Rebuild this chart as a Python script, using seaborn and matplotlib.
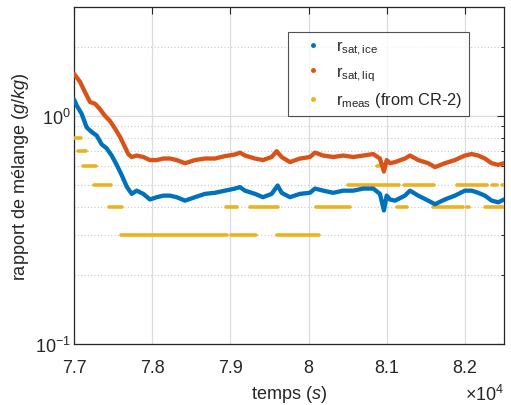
import matplotlib
matplotlib.use("Agg")
import numpy as np
import pandas as pd
import matplotlib.pyplot as plt
import seaborn as sns
from matplotlib.ticker import FixedLocator, FixedFormatter, NullFormatter
from matplotlib.lines import Line2D

# ---------------- data ----------------
t_ice = [77000, 77035, 77098, 77162, 77226, 77290, 77354, 77418, 77482, 77546,
         77610, 77674, 77738, 77802, 77886, 77972, 78058, 78142, 78228, 78313,
         78420, 78547, 78675, 78803, 78931, 79059, 79123, 79187, 79315, 79417,
         79528, 79605, 79656, 79762, 79890, 80018, 80082, 80188, 80316, 80444,
         80572, 80700, 80827, 80913, 80964, 80999, 81041, 81105, 81233, 81297,
         81403, 81531, 81617, 81744, 81872, 82000, 82086, 82170, 82256, 82342,
         82426, 82500]
r_ice = [1.18, 1.11, 1.02, 0.89, 0.85, 0.82, 0.75, 0.72, 0.67, 0.61,
         0.55, 0.49, 0.455, 0.47, 0.455, 0.43, 0.44, 0.447, 0.447, 0.44,
         0.425, 0.44, 0.455, 0.46, 0.47, 0.48, 0.487, 0.47, 0.455, 0.44,
         0.455, 0.495, 0.46, 0.44, 0.455, 0.46, 0.48, 0.47, 0.46, 0.47,
         0.47, 0.48, 0.48, 0.455, 0.385, 0.447, 0.43, 0.425, 0.447, 0.47,
         0.447, 0.425, 0.41, 0.43, 0.447, 0.47, 0.47, 0.46, 0.447, 0.425,
         0.418, 0.43]

t_liq = [77000, 77077, 77141, 77205, 77269, 77332, 77396, 77460, 77524, 77588,
         77652, 77694, 77738, 77802, 77886, 77972, 78058, 78142, 78228, 78313,
         78420, 78547, 78675, 78803, 78931, 79059, 79123, 79187, 79315, 79417,
         79528, 79592, 79656, 79762, 79890, 80018, 80082, 80188, 80316, 80444,
         80572, 80700, 80827, 80913, 80964, 80999, 81041, 81105, 81233, 81297,
         81403, 81531, 81617, 81744, 81872, 82000, 82086, 82170, 82256, 82342,
         82426, 82500]
r_liq = [1.53, 1.41, 1.27, 1.15, 1.13, 1.07, 1.00, 0.95, 0.88, 0.81,
         0.73, 0.68, 0.66, 0.67, 0.66, 0.64, 0.64, 0.65, 0.65, 0.64,
         0.62, 0.64, 0.65, 0.65, 0.666, 0.677, 0.69, 0.67, 0.65, 0.64,
         0.66, 0.70, 0.66, 0.627, 0.65, 0.66, 0.69, 0.67, 0.66, 0.67,
         0.66, 0.67, 0.68, 0.65, 0.57, 0.64, 0.62, 0.627, 0.65, 0.67,
         0.64, 0.62, 0.596, 0.62, 0.64, 0.67, 0.68, 0.67, 0.65, 0.62,
         0.61, 0.62]

# measured mixing ratio (CR-2): constant-value stretches
meas_start = [77000, 77051, 77119, 77256, 77448, 77597, 78944, 79008, 79251,
              79596, 80091, 80508, 80870, 81127, 81220, 81587, 81894, 82022,
              82256, 82342, 82469]
meas_end   = [77086, 77150, 77281, 77469, 77618, 78957, 79084, 79327, 79609,
              80133, 80530, 81160, 80900, 81255, 81604, 81978, 82278, 82055,
              82500, 82406, 82500]
meas_level = [0.8, 0.7, 0.6, 0.5, 0.4, 0.3, 0.4, 0.3, 0.4,
              0.3, 0.4, 0.5, 0.6, 0.4, 0.5, 0.4, 0.5, 0.4,
              0.4, 0.5, 0.5]

x_ticks = [77000, 78000, 79000, 80000, 81000, 82000]
x_tick_labels = ["7.7", "7.8", "7.9", "8", "8.1", "8.2"]
y_ticks = [0.1, 1.0]
y_tick_labels = ["10$^{-1}$", "10$^{0}$"]
y_minor = [0.2, 0.3, 0.4, 0.5, 0.6, 0.7, 0.8, 0.9, 2, 3]

legend_labels = ["r$_{\\mathrm{sat,ice}}$", "r$_{\\mathrm{sat,liq}}$",
                 "r$_{\\mathrm{meas}}$ (from CR-2)"]

BLUE, ORANGE, YELLOW = "#0072BD", "#D95319", "#EDB120"
AXC = "#262626"

# ---------------- style ----------------
sns.set_theme(style="white")
plt.rcParams["font.family"] = ["Liberation Sans", "DejaVu Sans"]
plt.rcParams["mathtext.fontset"] = "custom"
plt.rcParams["mathtext.rm"] = "Liberation Sans"
plt.rcParams["mathtext.it"] = "Liberation Sans:italic"
plt.rcParams["mathtext.bf"] = "Liberation Sans:bold"

fig = plt.figure(figsize=(5.11, 4.06), dpi=100)
ax = fig.add_axes([74 / 511, 1 - 345 / 406, 430 / 511, 337 / 406])

# measured segments as a long table
seg_rows = []
for i, (a, b, v) in enumerate(zip(meas_start, meas_end, meas_level)):
    seg_rows.append({"t": a, "r": v, "seg": i})
    seg_rows.append({"t": b, "r": v, "seg": i})
df_meas = pd.DataFrame(seg_rows)

sns.lineplot(data=df_meas, x="t", y="r", units="seg", estimator=None,
             color=YELLOW, lw=2.6, ax=ax, zorder=3)
sns.lineplot(x=t_liq, y=r_liq, estimator=None, sort=False, color=ORANGE,
             lw=3.1, ax=ax, zorder=4)
sns.lineplot(x=t_ice, y=r_ice, estimator=None, sort=False, color=BLUE,
             lw=3.1, ax=ax, zorder=5)

ax.set_yscale("log")
ax.set_xlim(77000, 82500)
ax.set_ylim(0.1, 3)

ax.xaxis.set_major_locator(FixedLocator(x_ticks))
ax.xaxis.set_major_formatter(FixedFormatter(x_tick_labels))
ax.yaxis.set_major_locator(FixedLocator(y_ticks))
ax.yaxis.set_major_formatter(FixedFormatter(y_tick_labels))
ax.yaxis.set_minor_locator(FixedLocator(y_minor))
ax.yaxis.set_minor_formatter(NullFormatter())

ax.set_axisbelow(True)
ax.grid(which="major", color="#dcdcdc", lw=0.9, ls="-")
ax.yaxis.grid(which="minor", color="#c8c8c8", lw=0.8, ls=(0, (1, 2)))

for s in ax.spines.values():
    s.set_color(AXC)
    s.set_linewidth(0.9)
ax.tick_params(which="both", direction="in", top=True, right=True,
               color=AXC, labelcolor=AXC, labelsize=13)
ax.tick_params(which="major", length=5, width=0.8)
ax.tick_params(axis="x", which="major", pad=11)
ax.tick_params(axis="y", which="major", pad=2)
ax.tick_params(which="minor", length=2.5, width=0.7)

ax.set_xlabel("temps ($\\mathit{s}$)", fontsize=13, color=AXC, labelpad=5)
ax.set_ylabel("rapport de mélange ($\\mathit{g/kg}$)", fontsize=13,
              color=AXC, labelpad=3)
ax.text(1.0, -0.118, "×10$^{4}$", transform=ax.transAxes, ha="right",
        va="top", fontsize=13, color=AXC)

handles = [Line2D([], [], ls="", marker=".", markersize=5, color=c)
           for c in (BLUE, ORANGE, YELLOW)]
leg = fig.legend(handles, legend_labels, loc="upper left",
                 bbox_to_anchor=(288 / 511, 1 - 33 / 406), frameon=True,
                 fancybox=False, edgecolor=AXC, fontsize=11.8,
                 borderpad=0.4, labelspacing=0.45, handlelength=2.2,
                 handletextpad=0.35, borderaxespad=0)
leg.get_frame().set_linewidth(0.8)
for txt in leg.get_texts():
    txt.set_color(AXC)

fig.savefig("out.png", dpi=100)
